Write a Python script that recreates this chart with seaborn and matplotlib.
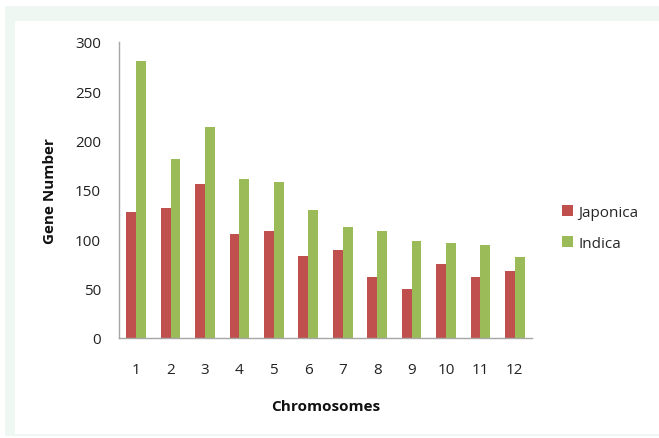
import matplotlib
matplotlib.use("Agg")
import matplotlib.pyplot as plt
import matplotlib.patches as mpatches
import seaborn as sns
import pandas as pd

chromosomes = ["1", "2", "3", "4", "5", "6", "7", "8", "9", "10", "11", "12"]
japonica = [128, 132, 156, 105, 108, 83, 89, 62, 50, 75, 62, 68]
indica = [281, 181, 214, 161, 158, 130, 113, 108, 98, 96, 94, 82]
series_names = ["Japonica", "Indica"]
y_ticks = [0, 50, 100, 150, 200, 250, 300]

df = pd.DataFrame({
    "Chromosomes": chromosomes * 2,
    "Gene Number": japonica + indica,
    "Variety": [series_names[0]] * len(chromosomes) + [series_names[1]] * len(chromosomes),
})

sns.set_theme(style="white")
plt.rcParams["font.family"] = ["Open Sans", "DejaVu Sans"]

W, H = 659, 439
fig = plt.figure(figsize=(W / 100, H / 100), dpi=100)
fig.patch.set_facecolor("white")
# light green frame
fig.patches.append(mpatches.Rectangle((5 / W, 1 - 437 / H), (W - 5) / W, (437 - 7) / H,
                                      transform=fig.transFigure, facecolor="#EEF7F1",
                                      edgecolor="none", zorder=-10))
fig.patches.append(mpatches.Rectangle((15 / W, 1 - 435 / H), (W - 15) / W, (435 - 22) / H,
                                      transform=fig.transFigure, facecolor="white",
                                      edgecolor="none", zorder=-9))

ax = fig.add_axes([119 / W, 1 - 339 / H, (532 - 119) / W, (339 - 43) / H])
ax.set_facecolor("none")

sns.barplot(data=df, x="Chromosomes", y="Gene Number", hue="Variety",
            palette=["#C0504D", "#9BBB59"], width=0.57, gap=0, ax=ax,
            saturation=1, edgecolor="none", linewidth=0)

ax.set_ylim(0, 300)
ax.set_yticks(y_ticks)
ax.set_xlim(-0.5, len(chromosomes) - 0.5)
for s in ["top", "right"]:
    ax.spines[s].set_visible(False)
for s in ["left", "bottom"]:
    ax.spines[s].set_color("#A6A6A6")
    ax.spines[s].set_linewidth(1.0)
ax.tick_params(axis="y", length=0, pad=13, labelsize=11, labelcolor="#222222")
ax.tick_params(axis="x", length=0, pad=17, labelsize=11, labelcolor="#222222")

ax.set_xlabel("Chromosomes", fontsize=11, fontweight="bold", labelpad=16, color="#111111")
ax.set_ylabel("Gene Number", fontsize=11, fontweight="bold", labelpad=13, color="#111111")

leg = ax.legend(loc="center left", bbox_to_anchor=((562 - 119) / 413, (339 - 229) / 296),
                frameon=False, borderpad=0, borderaxespad=0,
                fontsize=11, handlelength=0.7, handleheight=0.7, handletextpad=0.35,
                labelspacing=1.05)

fig.savefig("out.png", dpi=100)
